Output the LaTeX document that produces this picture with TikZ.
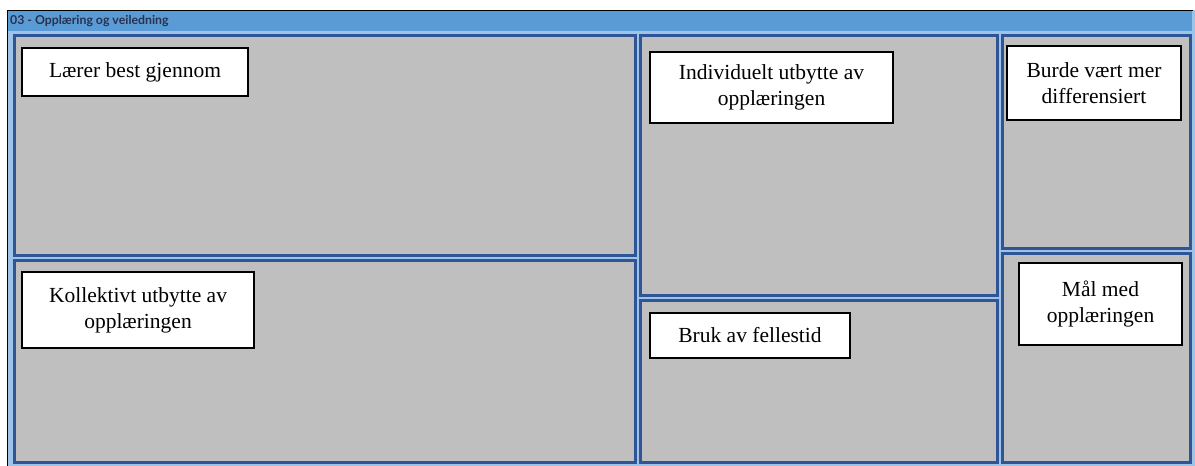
\documentclass[tikz,border=0pt]{standalone}
\usepackage{fontspec}
\setmainfont{Liberation Serif}
\newfontfamily\titlefont{Lato}
\definecolor{barblue}{RGB}{91,155,213}
\definecolor{lightblue}{RGB}{157,195,230}
\definecolor{darkblue}{RGB}{47,85,151}
\definecolor{panelgray}{RGB}{191,191,191}
\definecolor{titletext}{RGB}{38,50,80}
\begin{document}
\begin{tikzpicture}[x=1pt,y=-1pt,
  panel/.style={fill=panelgray,draw=darkblue,line width=3pt},
  label/.style={draw=black,fill=white,line width=1.8pt,align=center,inner sep=0pt,
    font=\fontsize{21.5}{26}\selectfont}]
\useasboundingbox (0,0) rectangle (1195,466);
\fill[white] (0,0) rectangle (1195,466);
\fill[lightblue] (7,10) rectangle (1195,466);
\fill[barblue] (8,11) rectangle (1192,31);
\draw[black,line width=1.5pt] (7.5,466) -- (7.5,10.5) -- (1193,10.5);
\node[anchor=west,inner sep=0pt,text=titletext,font=\titlefont\bfseries\fontsize{12.3}{13}\selectfont] (title) at (10,21) {03 - Opplæring og veiledning};
% panels
\draw[panel] (14.5,35.5) rectangle (635.5,255.5);
\draw[panel] (14.5,260.5) rectangle (635.5,462.5);
\draw[panel] (640.5,35.5) rectangle (997.5,295.5);
\draw[panel] (640.5,300.5) rectangle (997.5,462.5);
\draw[panel] (1002.5,35.5) rectangle (1190.5,248.5);
\draw[panel] (1002.5,253.5) rectangle (1190.5,462.5);
% labels
\node[label,minimum width=226pt,minimum height=48pt] (a) at (135,72) {Lærer best gjennom};
\node[label,minimum width=232pt,minimum height=76pt] (b) at (138,310) {Kollektivt utbytte av\\opplæringen};
\node[label,minimum width=243pt,minimum height=71pt] (c) at (771.5,87.5) {Individuelt utbytte av\\opplæringen};
\node[label,minimum width=200pt,minimum height=45pt] (d) at (750,335.5) {Bruk av fellestid};
\node[label,minimum width=174pt,minimum height=74pt] (e) at (1094,83) {Burde vært mer\\differensiert};
\node[label,minimum width=163pt,minimum height=82pt] (f) at (1100.5,304) {Mål med\\opplæringen};
\end{tikzpicture}
\end{document}
